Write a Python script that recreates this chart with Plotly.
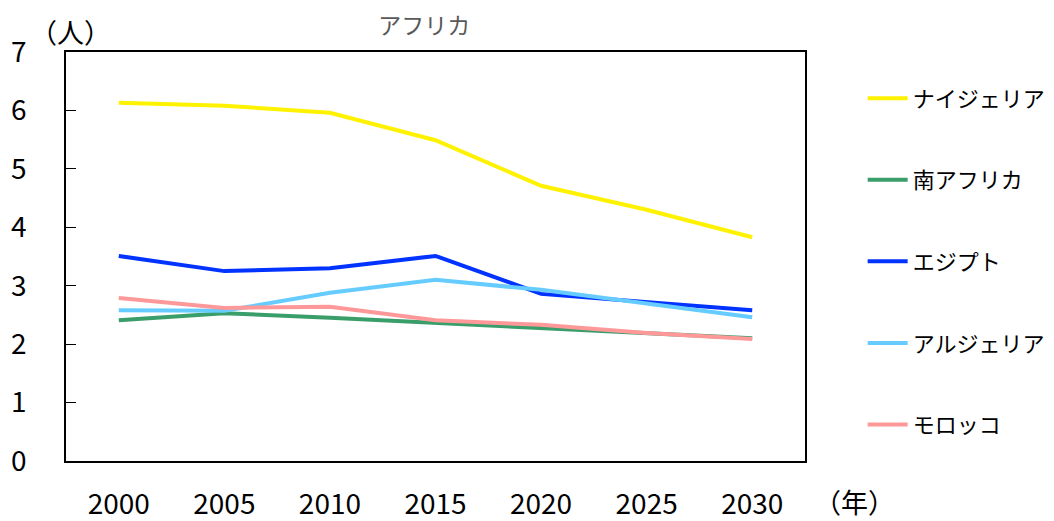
import plotly.graph_objects as go

years = ["2000", "2005", "2010", "2015", "2020", "2025", "2030"]
nigeria = [6.13, 6.08, 5.96, 5.49, 4.71, 4.30, 3.83]
south_africa = [2.41, 2.53, 2.45, 2.36, 2.28, 2.19, 2.10]
egypt = [3.51, 3.25, 3.30, 3.51, 2.86, 2.72, 2.58]
algeria = [2.58, 2.57, 2.88, 3.10, 2.93, 2.69, 2.46]
morocco = [2.79, 2.62, 2.64, 2.41, 2.33, 2.19, 2.09]

names = ["ナイジェリア", "南アフリカ", "エジプト", "アルジェリア", "モロッコ"]
series = [nigeria, south_africa, egypt, algeria, morocco]
colors = ["#FFF200", "#3A9E6A", "#0033FF", "#66CCFF", "#FF9999"]

FONT = "Noto Sans CJK JP"

fig = go.Figure()
for i, (n, s, c) in enumerate(zip(names, series, colors)):
    fig.add_trace(go.Scatter(x=years, y=s, name=n, mode="lines",
                             line=dict(color=c, width=4),
                             legendgroup=f"g{i}"))

fig.update_layout(
    width=1046, height=513,
    margin=dict(l=58, r=249, t=44, b=60, autoexpand=False),
    paper_bgcolor="white", plot_bgcolor="white",
    font=dict(family=FONT, size=24, color="black"),
    title=dict(text="アフリカ", xref="container", x=0.398, xanchor="center",
               yref="container", y=0.965, yanchor="middle",
               font=dict(family=FONT, size=23, color="#595959")),
    showlegend=True,
    legend=dict(x=1.078, xanchor="left", y=0.938, yanchor="top",
                font=dict(family=FONT, size=22), tracegroupgap=50,
                itemwidth=40, bgcolor="rgba(0,0,0,0)"),
)
fig.update_xaxes(type="category", range=[-0.5, 6.5], showline=True, linecolor="black",
                 linewidth=1.5, mirror=True, ticks="", showgrid=False, automargin=False,
                 ticklabelstandoff=18, tickfont=dict(family=FONT, size=28))
fig.update_yaxes(range=[0, 7], dtick=1, showline=True, linecolor="black",
                 linewidth=1.5, mirror=True, ticks="inside", ticklen=10, tickcolor="black",
                 showgrid=False, zeroline=False, automargin=False, ticklabelstandoff=32,
                 tickfont=dict(family=FONT, size=28))

fig.add_annotation(text="（人）", xref="paper", yref="paper", x=-0.052, y=1.049,
                   xanchor="left", yanchor="middle", showarrow=False,
                   font=dict(family=FONT, size=27))
fig.add_annotation(text="（年）", xref="paper", yref="paper", x=1.01, y=-0.098,
                   xanchor="left", yanchor="middle", showarrow=False,
                   font=dict(family=FONT, size=27))

fig.write_html("out.html")
